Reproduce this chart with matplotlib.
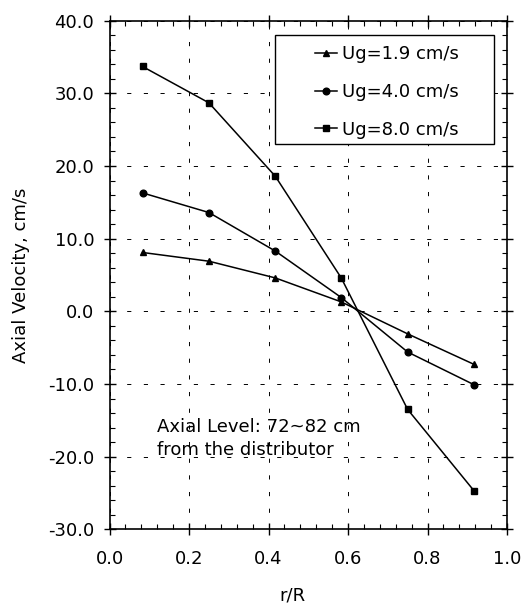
import matplotlib.pyplot as plt
from matplotlib.patches import Rectangle
from matplotlib.ticker import MultipleLocator, FormatStrFormatter

plt.rcParams['font.family'] = ['DejaVu Sans']
plt.rcParams['lines.scale_dashes'] = False

# radial positions (ring midpoints)
r_R = [0.083, 0.25, 0.417, 0.583, 0.75, 0.917]

# axial velocity, cm/s
ug_19 = [8.1, 6.9, 4.6, 1.3, -3.1, -7.3]
ug_40 = [16.3, 13.6, 8.3, 1.9, -5.6, -10.1]
ug_80 = [33.7, 28.7, 18.6, 4.6, -13.5, -24.7]

series = [
    ('Ug=1.9 cm/s', ug_19, '^'),
    ('Ug=4.0 cm/s', ug_40, 'o'),
    ('Ug=8.0 cm/s', ug_80, 's'),
]

FS = 13

fig = plt.figure(figsize=(5.23, 6.04), dpi=100, facecolor='white')
ax = fig.add_axes([0.2094, 0.1237, 0.76, 0.842])

for label, vals, mk in series:
    ax.plot(r_R, vals, color='black', linewidth=1.1, marker=mk,
            markersize=4.8, label=label)

ax.set_xlim(0.0, 1.0)
ax.set_ylim(-30, 40)
ax.xaxis.set_major_locator(MultipleLocator(0.2))
ax.xaxis.set_minor_locator(MultipleLocator(0.04))
ax.yaxis.set_major_locator(MultipleLocator(10))
ax.yaxis.set_minor_locator(MultipleLocator(2))
ax.xaxis.set_major_formatter(FormatStrFormatter('%.1f'))
ax.yaxis.set_major_formatter(FormatStrFormatter('%.1f'))

ax.tick_params(which='major', direction='inout', length=8, width=1,
               labelsize=FS, top=True, right=True)
ax.tick_params(axis='x', which='major', pad=11)
ax.tick_params(axis='y', which='major', pad=7)
ax.tick_params(which='minor', direction='in', length=3.5, width=0.8,
               top=True, right=True)

ax.grid(True, which='major', color='black', linewidth=0.7,
        linestyle=(0, (3, 9)))

for sp in ax.spines.values():
    sp.set_linewidth(1.2)

ax.set_xlabel('r/R', fontsize=FS)
ax.xaxis.set_label_coords(0.46, -0.112)
ax.set_ylabel('Axial Velocity, cm/s', fontsize=FS)
ax.yaxis.set_label_coords(-0.20, 0.5)

# legend frame drawn separately (wide side padding as in the original)
ax.add_patch(Rectangle((0.416, 0.757), 0.551, 0.215, transform=ax.transAxes,
                       facecolor='white', edgecolor='black', linewidth=1.0,
                       zorder=4))
leg = ax.legend(loc='center left', bbox_to_anchor=(0.517, 0.860),
                fontsize=FS, frameon=False, handlelength=1.2,
                handletextpad=0.28, labelspacing=1.1,
                borderpad=0, borderaxespad=0)
leg.set_zorder(5)

ax.text(0.119, -19.8, 'Axial Level: 72~82 cm\nfrom the distributor',
        fontsize=FS, ha='left', va='baseline', linespacing=1.35)

fig.savefig('out.png', dpi=100, facecolor='white')
